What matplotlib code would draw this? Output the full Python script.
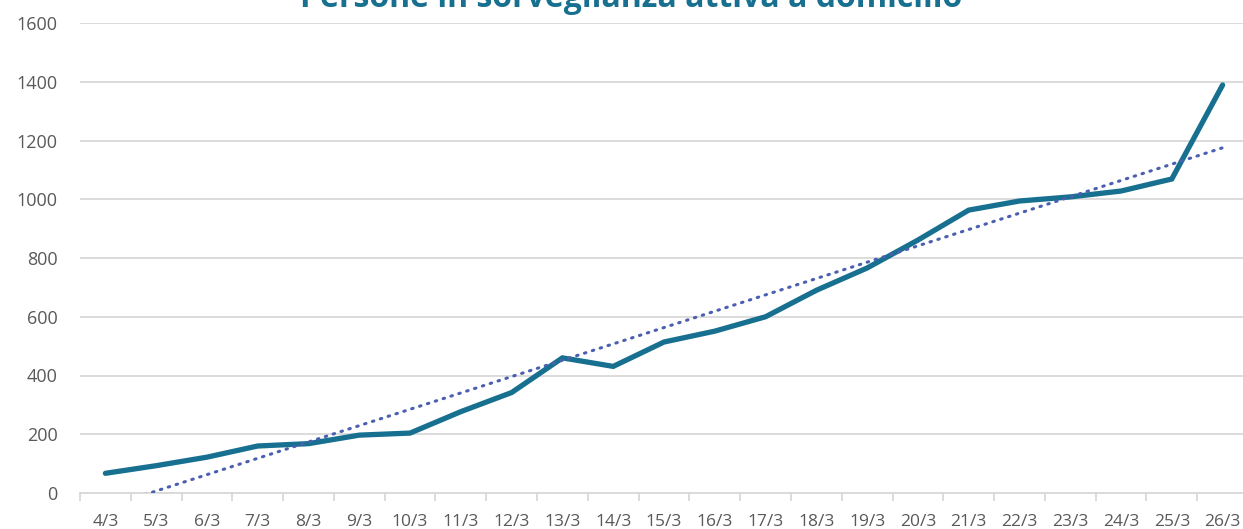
import matplotlib.pyplot as plt
import numpy as np

# data
dates = ["4/3", "5/3", "6/3", "7/3", "8/3", "9/3", "10/3", "11/3", "12/3", "13/3",
         "14/3", "15/3", "16/3", "17/3", "18/3", "19/3", "20/3", "21/3", "22/3",
         "23/3", "24/3", "25/3", "26/3"]
persone = [67, 93, 122, 160, 168, 197, 204, 277, 342, 460,
           431, 514, 551, 600, 690, 766, 861, 963, 994,
           1008, 1028, 1069, 1389]
y_ticks = [0, 200, 400, 600, 800, 1000, 1200, 1400, 1600]

title = "Persone in sorveglianza attiva a domicilio"
line_color = "#17708f"
trend_color = "#4a5fb0"
text_color = "#595959"
grid_color = "#d9d9d9"

plt.rcParams["font.family"] = ["Open Sans", "DejaVu Sans"]

fig = plt.figure(figsize=(12.43, 5.29), dpi=100)
ax = fig.add_axes((80 / 1243, 1 - 493 / 529, 1168 / 1243, 470 / 529))

x = np.arange(len(dates))
ax.plot(x, persone, color=line_color, lw=3.8, solid_capstyle="round",
        solid_joinstyle="miter", zorder=3)

# linear trend line (like Excel's)
k, b = np.polyfit(x, persone, 1)
trend = k * x + b
ax.plot(x, trend, color=trend_color, lw=2.2, linestyle=(0, (0.5, 2.2)),
        dash_capstyle="round", zorder=4)

ax.set_xlim(-0.5, len(dates) - 0.5)
ax.set_ylim(0, 1600)
ax.set_yticks(y_ticks)
ax.set_yticklabels([str(v) for v in y_ticks])
ax.set_xticks(x)
ax.set_xticklabels(dates)
ax.set_xticks(np.arange(len(dates) + 1) - 0.5, minor=True)

ax.tick_params(axis="y", length=0, pad=16, labelsize=13, labelcolor=text_color)
ax.tick_params(axis="x", which="major", length=0, pad=15, labelsize=12.5,
               labelcolor=text_color)
ax.tick_params(axis="x", which="minor", length=6, width=1.3, color=grid_color)

ax.grid(axis="y", color=grid_color, lw=1.3, zorder=0)
ax.set_axisbelow(True)
for side in ["top", "right", "left"]:
    ax.spines[side].set_visible(False)
ax.spines["bottom"].set_color(grid_color)
ax.spines["bottom"].set_linewidth(1.3)
ax.spines["bottom"].set_zorder(1)

fig.text(0.508, 1 - 7 / 529, title, ha="center", va="baseline",
         fontsize=23, fontweight="bold", color=line_color)

fig.savefig("out.png", dpi=100)
